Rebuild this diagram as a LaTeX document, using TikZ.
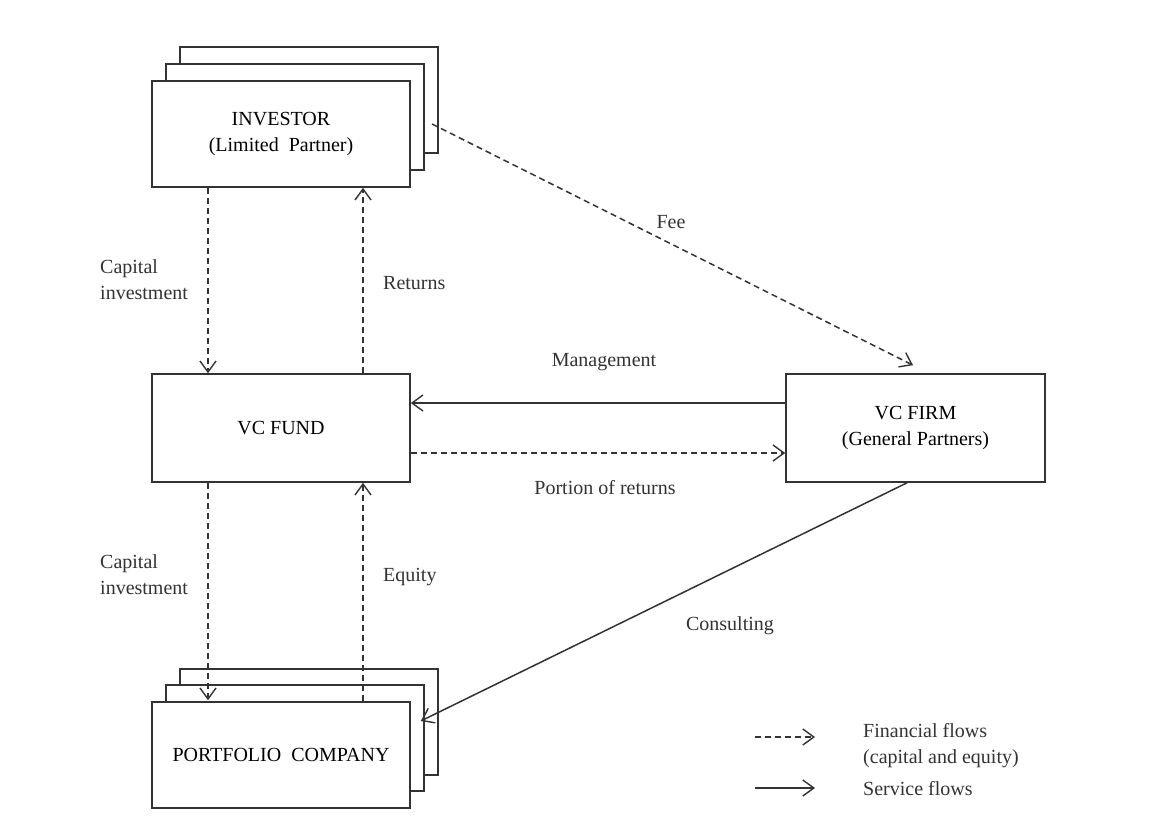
\documentclass[tikz,border=0pt]{standalone}
\usepackage{fontspec}
\setmainfont{Liberation Serif}
\usetikzlibrary{arrows.meta,calc}
\begin{document}
\begin{tikzpicture}[x=1pt,y=-1pt,
  font=\fontsize{20}{26}\selectfont,
  box/.style={draw=black!80,line width=1.6pt,fill=white,minimum width=258pt,minimum height=106pt,inner sep=0pt,align=center},
  fin/.style={draw=black!80,line width=1.5pt,dash pattern=on 6pt off 4pt,-{Straight Barb[length=11pt,width=16pt,line width=1.4pt]}},
  svc/.style={draw=black!80,line width=1.5pt,-{Straight Barb[length=11pt,width=16pt,line width=1.4pt]}},
  lbl/.style={text=black!80,inner sep=0pt,align=left}]
\useasboundingbox[fill=white] (0,0) rectangle (1174,825);
% investor stack
\node[box] (inv3) at (309,100) {};
\node[box] (inv2) at (295,117) {};
\node[box] (inv) at (281,134) {INVESTOR\\(Limited\ \ Partner)};
% VC fund and VC firm
\node[box,minimum height=108pt] (fund) at (281,428) {VC FUND};
\node[box,minimum height=108pt,minimum width=259pt] (firm) at (915.5,428) {VC FIRM\\(General Partners)};
% portfolio stack
\node[box] (port3) at (309,722) {};
\node[box] (port2) at (295,738) {};
\node[box] (port) at (281,755) {PORTFOLIO\ \ COMPANY};
% connectors
\coordinate (feestart) at (432,124);
\draw[fin] ([xshift=-73pt]inv.south) -- ([xshift=-73pt]fund.north);
\draw[fin] ([xshift=82pt]fund.north) -- ([xshift=82pt]inv.south);
\draw[fin] ([xshift=-73pt]fund.south) -- ([xshift=-73pt,yshift=1pt]port.north);
\draw[fin] ([xshift=82pt]port.north) -- ([xshift=82pt]fund.south);
\draw[svc] ([yshift=25pt]firm.west) -- ([yshift=25pt]fund.east);
\draw[fin] ([yshift=-25pt]fund.east) -- ([yshift=-25pt]firm.west);
\draw[fin] (feestart) -- ($(firm.north)+(-2.5,-8)$);
\draw[svc] ([xshift=-8.5pt]firm.south) -- ([xshift=-4pt,yshift=17pt]port2.east);
% labels
\node[lbl,anchor=west] (lc1) at (100,280) {Capital\\investment};
\node[lbl,anchor=west] (lret) at (383,283) {Returns};
\node[lbl] (lfee) at (671,222) {Fee};
\node[lbl] (lman) at (604,362) {Management};
\node[lbl] (lpor) at (605,488) {Portion of returns};
\node[lbl,anchor=west] (lc2) at (100,575) {Capital\\investment};
\node[lbl,anchor=west] (leq) at (383,577) {Equity};
\node[lbl] (lcon) at (730,626) {Consulting};
% legend
\coordinate (lg1a) at (755,737);
\coordinate (lg1b) at (815,737);
\coordinate (lg2a) at (755,788);
\coordinate (lg2b) at (815,788);
\draw[fin] (lg1a) -- (lg1b);
\draw[svc] (lg2a) -- (lg2b);
\node[lbl,anchor=west] (lgt1) at (863,746) {Financial flows\\(capital and equity)};
\node[lbl,anchor=west] (lgt2) at (863,789) {Service flows};
\end{tikzpicture}
\end{document}
